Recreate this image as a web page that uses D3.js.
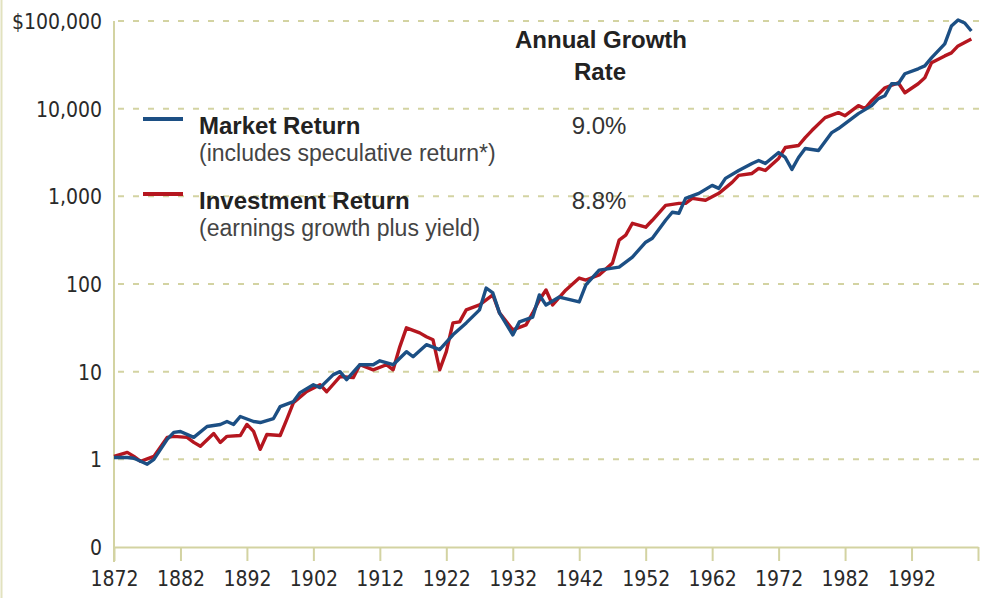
<!DOCTYPE html>
<html>
<head>
<meta charset="utf-8">
<script src="https://cdn.jsdelivr.net/npm/d3@7"></script>
<style>
  html, body { margin: 0; padding: 0; background: #fff; }
  svg { display: block; }
  .tick text { font-family: "DejaVu Sans Condensed", "Liberation Sans Narrow", sans-serif; font-size: 21px; fill: #2a2a2a; }
  .lbl { font-family: "Liberation Sans", Arial, sans-serif; fill: #222; }
</style>
</head>
<body>
<svg id="chart" width="981" height="598"></svg>
<script>
// values (growth of $1, log scale)
var marketYears = [1872,1874,1875,1877,1878,1880,1881,1882,1884,1886,1888,1889,1890,1891,1893,
  1894,1896,1897,1899,1900,1902,1903,1905,1906,1907,1909,1911,1912,1914,1916,1917,1919,1921,
  1923,1925,1927,1928,1929,1930,1932,1933,1935,1936,1937,1939,1942,1943,1945,1948,1950,1952,
  1953,1955,1956,1957,1958,1960,1962,1963,1964,1966,1968,1969,1970,1972,1973,1974,1975,1976,
  1978,1980,1981,1983,1984,1986,1987,1988,1989,1990,1991,1993,1994,1995,1997,1998,1999,2000,2001];
var marketValues = [1.05,1.05,1.03,0.88,1.0,1.69,2.03,2.08,1.78,2.37,2.5,2.7,2.5,3.08,2.7,
  2.63,2.92,4.0,4.56,5.77,7.1,6.58,9.25,10,8.1,12,12,13.3,12,16.9,14.8,20.3,17.8,
  26.3,36,50.7,90,79,46.8,26.3,37,42,75,57.5,71,62.4,97.5,144,156,203,300,
  333,533,658,641,949,1082,1334,1232,1603,1974,2371,2565,2371,3162,2775,2028,2775,3510,
  3335,5333,5928,7695,8770,10820,13000,14060,19230,19230,25000,28500,30800,38000,54800,87700,102600,94900,76900];

var investYears = [1872,1874,1875,1876,1878,1880,1881,1883,1884,1885,1887,1888,1889,1891,1892,
  1893,1894,1895,1897,1898,1899,1901,1903,1904,1906,1908,1909,1911,1913,1914,1915,1916,1918,
  1919,1920,1921,1922,1923,1924,1925,1927,1929,1930,1932,1934,1935,1936,1937,1938,1940,1942,
  1943,1945,1947,1948,1949,1950,1952,1953,1955,1957,1958,1959,1961,1963,1965,1966,1968,1969,
  1970,1972,1973,1975,1976,1977,1979,1981,1982,1984,1985,1986,1988,1990,1991,1993,1994,1995,
  1997,1998,1999,2001];
var investValues = [1.08,1.2,1.08,0.95,1.08,1.78,1.83,1.78,1.56,1.41,1.97,1.56,1.83,1.87,2.5,
  2.08,1.3,1.92,1.87,2.85,4.44,5.93,7.1,5.9,8.8,8.55,12,10.5,12,10.5,19.2,31.6,27.7,
  25,23.1,10.5,16.9,36,37,50.7,57.7,75,46.8,30,34.2,46.8,65.8,85.5,57.7,85.5,117,
  111,127,173,316,361,493,444,533,790,832,832,949,901,1082,1442,1733,1824,2080,
  1974,2704,3605,3800,4680,5623,7900,9016,8318,10820,10000,12330,17330,19730,15200,19230,22500,33340,
  40000,43300,52000,62400];

var yTicks = [0.1, 1, 10, 100, 1000, 10000, 100000];
var xTicks = [1872,1882,1892,1902,1912,1922,1932,1942,1952,1962,1972,1982,1992,2002];

var legendNames = ["Market Return", "Investment Return"];
var legendNotes = ["(includes speculative return*)", "(earnings growth plus yield)"];
var growthRates = ["9.0%", "8.8%"];

var blue = "#1c4f84", red = "#b5161f", olive = "#d3d3a2";

var svg = d3.select("#chart");
var x = d3.scaleLinear().domain([1872, 2002]).range([114, 978]);
var y = d3.scaleLog().domain([0.1, 100000]).range([547, 21]);

// thin frame line on the left edge
svg.append("line").attr("x1", 1.5).attr("x2", 1.5).attr("y1", 0).attr("y2", 598)
  .attr("stroke", "#e2e2bf").attr("stroke-width", 2);

// dashed gridlines
svg.append("g").selectAll("line").data(yTicks.slice(1)).enter().append("line")
  .attr("x1", 118).attr("x2", 981)
  .attr("y1", function(d) { return y(d); }).attr("y2", function(d) { return y(d); })
  .attr("stroke", olive).attr("stroke-width", 2).attr("stroke-dasharray", "6,9");

// y axis
var yAxis = d3.axisLeft(y).tickValues(yTicks).tickSize(0).tickPadding(12)
  .tickFormat(function(d) {
    if (d < 1) return "0";
    if (d === 100000) return "$100,000";
    return d3.format(",")(d);
  });
var gy = svg.append("g").attr("transform", "translate(114,0)").call(yAxis);
gy.select(".domain").remove();
gy.selectAll(".tick text").attr("dy", "0.36em");
svg.append("line").attr("x1", 114).attr("x2", 114).attr("y1", y(100000)).attr("y2", y(0.1) + 15)
  .attr("stroke", olive).attr("stroke-width", 2);

// x axis
var xAxis = d3.axisBottom(x).tickValues(xTicks).tickSize(14).tickSizeOuter(0).tickPadding(10)
  .tickFormat(function(d) { return d === 2002 ? "" : d; });
var gx = svg.append("g").attr("transform", "translate(0," + y(0.1) + ")").call(xAxis);
gx.select(".domain").attr("stroke", olive).attr("stroke-width", 2);
gx.selectAll(".tick line").attr("stroke", olive).attr("stroke-width", 2);

// legend and growth rates
var legendY = [119, 194];
var leg = svg.append("g");
[blue, red].forEach(function(c, i) {
  leg.append("line").attr("x1", 143).attr("x2", 183).attr("y1", legendY[i]).attr("y2", legendY[i])
    .attr("stroke", c).attr("stroke-width", 4);
  leg.append("text").attr("class", "lbl").attr("x", 199).attr("y", legendY[i] + 15)
    .style("font-size", "24px").style("font-weight", "bold").text(legendNames[i]);
  leg.append("text").attr("class", "lbl").attr("x", 199).attr("y", legendY[i] + 42)
    .style("font-size", "23px").style("fill", "#444").text(legendNotes[i]);
  leg.append("text").attr("class", "lbl").attr("x", 599).attr("y", legendY[i] + 15)
    .attr("text-anchor", "middle").style("font-size", "24px").style("fill", "#333")
    .text(growthRates[i]);
});
leg.append("text").attr("class", "lbl").attr("x", 601).attr("y", 48).attr("text-anchor", "middle")
  .style("font-size", "24px").style("font-weight", "bold").text("Annual Growth");
leg.append("text").attr("class", "lbl").attr("x", 600).attr("y", 80).attr("text-anchor", "middle")
  .style("font-size", "24px").style("font-weight", "bold").text("Rate");

// series lines
var line = d3.line()
  .x(function(d) { return x(d[0]); })
  .y(function(d) { return y(d[1]); });

svg.append("path").datum(d3.zip(investYears, investValues))
  .attr("fill", "none").attr("stroke", red).attr("stroke-width", 3.4)
  .attr("stroke-linejoin", "round").attr("d", line);
svg.append("path").datum(d3.zip(marketYears, marketValues))
  .attr("fill", "none").attr("stroke", blue).attr("stroke-width", 3.4)
  .attr("stroke-linejoin", "round").attr("d", line);
</script>
</body>
</html>
